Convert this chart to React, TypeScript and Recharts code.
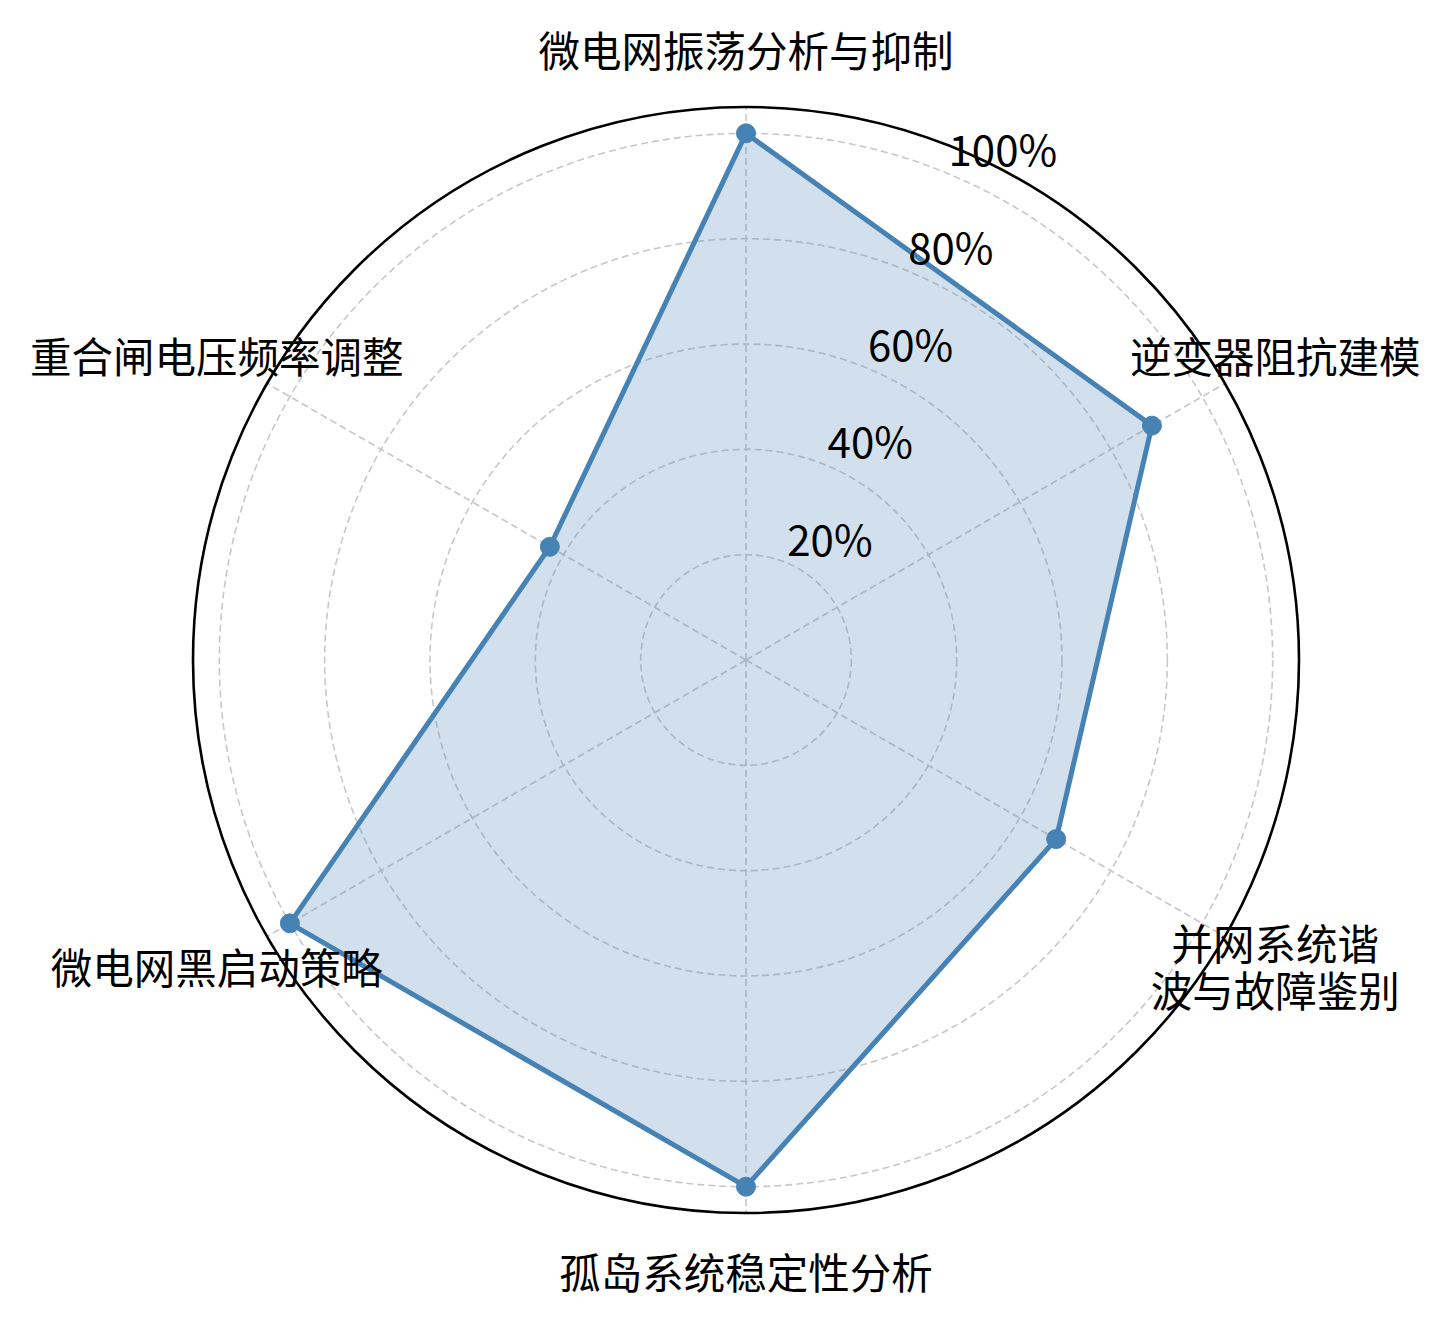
import { RadarChart, Radar, PolarGrid, PolarAngleAxis, PolarRadiusAxis } from 'recharts'

const categories = ['微电网振荡分析与抑制', '逆变器阻抗建模', '并网系统谐\n波与故障鉴别', '孤岛系统稳定性分析', '微电网黑启动策略', '重合闸电压频率调整']
const scores = [100, 89, 68, 100, 100, 43]
const radiusTicks = [20, 40, 60, 80, 100]

const data = categories.map((name, i) => ({ name, score: scores[i] }))

const CX = 746
const CY = 660
const OUTER = 553
const FONT = '"Noto Sans CJK SC", "Noto Sans", sans-serif'
const BLUE = '#4682b4'

function AngleTick(props: any) {
  const angle = (props.payload.coordinate * Math.PI) / 180
  const r = 611
  const x = CX + Math.cos(-angle) * r
  const y = CY + Math.sin(-angle) * r
  const lines = String(props.payload.value).split('\n')
  const lh = 47
  const y0 = y - ((lines.length - 1) * lh) / 2
  return (
    <text x={x} y={y0} textAnchor="middle" dominantBaseline="central" fontSize={41.5} fontFamily={FONT} fill="#000">
      {lines.map((l, i) => (
        <tspan key={i} x={x} y={y0 + i * lh} dominantBaseline="central">{l}</tspan>
      ))}
    </text>
  )
}

function RadiusTick(props: any) {
  return (
    <text x={props.x + 1} y={props.y - 7} textAnchor="start" fontSize={42} fontFamily={FONT} fill="#000">
      {props.payload.value}%
    </text>
  )
}

// polygon drawn with an explicit outline so the stroke width is honoured
function RadarShape(props: any) {
  const pts = (props.points || []).map((p: any) => `${p.x},${p.y}`).join(' ')
  return (
    <g>
      <polygon points={pts} fill={BLUE} fillOpacity={0.25} stroke="none" />
      <polygon points={pts} fill="none" stroke={BLUE} strokeWidth={5} strokeLinejoin="round" />
    </g>
  )
}

export default function App() {
  return (
    <div style={{ position: 'absolute', left: 0, top: 0, width: 1450, height: 1324, background: '#fff' }}>
      <RadarChart width={1450} height={1324} data={data} cx={CX} cy={CY} outerRadius={OUTER} startAngle={90} endAngle={-270} margin={{ top: 0, right: 0, bottom: 0, left: 0 }}>
        <PolarGrid gridType="circle" stroke="#c8c8c8" strokeWidth={1.6} strokeDasharray="7 4" />
        <PolarGrid gridType="circle" polarRadius={[OUTER]} radialLines={false} stroke="#000" strokeWidth={2.6} />
        <PolarAngleAxis dataKey="name" tick={<AngleTick />} tickLine={false} axisLine={false} />
        <PolarRadiusAxis angle={67.5} domain={[0, 105]} ticks={radiusTicks} tick={<RadiusTick />} axisLine={false} tickLine={false} />
        <Radar
          dataKey="score"
          stroke={BLUE}
          strokeWidth={5}
          fill={BLUE}
          fillOpacity={0.25}
          shape={<RadarShape />}
          dot={{ r: 9.5, fill: BLUE, stroke: BLUE, strokeWidth: 1, fillOpacity: 1 }}
          isAnimationActive={false}
        />
      </RadarChart>
    </div>
  )
}
